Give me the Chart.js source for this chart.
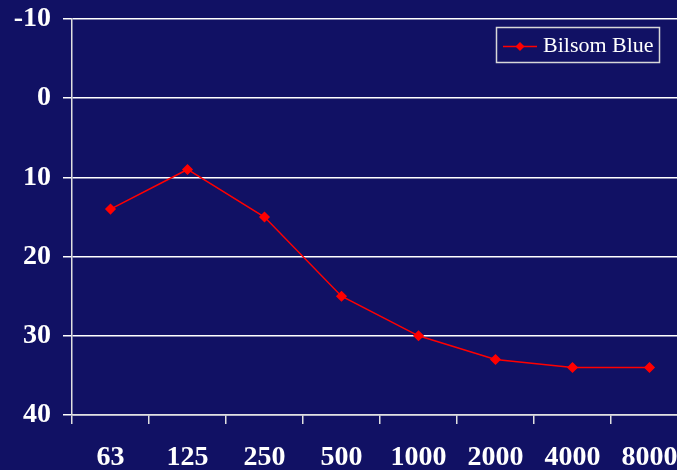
<!DOCTYPE html>
<html>
<head>
<meta charset="utf-8">
<script src="https://cdn.jsdelivr.net/npm/chart.js@4/dist/chart.umd.min.js"></script>
<style>
  html, body { margin: 0; padding: 0; overflow: hidden; background: #111164; }
  #chart_area { display: block; }
</style>
</head>
<body>
<canvas id="chart_area" width="700" height="470"></canvas>
<script>
// frequencies (Hz) and attenuation values
const frequencies = ['63', '125', '250', '500', '1000', '2000', '4000', '8000'];
const bilsomBlue = [14, 9, 15, 25, 30, 33, 34, 34];
const seriesName = 'Bilsom Blue';
const yTicks = [-10, 0, 10, 20, 30, 40];

const bg = '#111164';
const tickFont = { family: '"Liberation Serif", "Times New Roman", serif', size: 28, weight: 'bold' };

// draws the boxed legend in the top right corner
const boxLegend = {
  id: 'boxLegend',
  afterDraw(chart) {
    const c = chart.ctx;
    const ds = chart.data.datasets[0];
    c.save();
    c.strokeStyle = '#d8d8d8';
    c.lineWidth = 1.5;
    c.strokeRect(496.5, 27.5, 163, 35);
    c.strokeStyle = ds.borderColor;
    c.lineWidth = 1.5;
    c.beginPath();
    c.moveTo(503, 46.5);
    c.lineTo(537, 46.5);
    c.stroke();
    c.fillStyle = ds.borderColor;
    c.beginPath();
    c.moveTo(520, 42);
    c.lineTo(524.5, 46.5);
    c.lineTo(520, 51);
    c.lineTo(515.5, 46.5);
    c.closePath();
    c.fill();
    c.fillStyle = '#ffffff';
    c.font = '22px "Liberation Serif", "Times New Roman", serif';
    c.textBaseline = 'middle';
    c.fillText(ds.label, 543, 46);
    c.restore();
  }
};

const ctx = document.getElementById('chart_area').getContext('2d');
const myChart = new Chart(ctx, {
  type: 'line',
  data: {
    labels: frequencies,
    datasets: [{
      label: seriesName,
      data: bilsomBlue,
      borderColor: '#ff0000',
      backgroundColor: '#ff0000',
      borderWidth: 1.5,
      pointStyle: 'rectRot',
      pointRadius: 4.5,
      pointHoverRadius: 4.5,
      tension: 0
    }]
  },
  options: {
    responsive: false,
    animation: false,
    layout: { padding: { top: 19, right: 12, left: 0, bottom: 0 } },
    plugins: {
      legend: { display: false },
      tooltip: { enabled: false }
    },
    scales: {
      x: {
        offset: true,
        grid: {
          offset: true,
          drawOnChartArea: false,
          drawTicks: true,
          tickLength: 9,
          color: '#e0e0e0',
          lineWidth: 1.5
        },
        border: { display: true, color: '#e0e0e0', width: 1.5 },
        ticks: {
          color: '#ffffff',
          font: tickFont,
          padding: 17,
          maxRotation: 0,
          autoSkip: false
        },
        afterFit(scale) { scale.height = 55; }
      },
      y: {
        reverse: true,
        min: -10,
        max: 40,
        afterBuildTicks(scale) { scale.ticks = yTicks.map(v => ({ value: v })); },
        grid: {
          color: '#ffffff',
          lineWidth: 1.5,
          tickLength: 9
        },
        border: { display: true, color: '#e0e0e0', width: 1.5 },
        ticks: {
          color: '#ffffff',
          font: tickFont,
          padding: 12
        },
        afterFit(scale) {
          scale.width = 72;
          scale.paddingTop = 0;
          scale.paddingBottom = 0;
        }
      }
    }
  },
  plugins: [{
    id: 'bgFill',
    beforeDraw(chart) {
      const c = chart.ctx;
      c.save();
      c.fillStyle = bg;
      c.fillRect(0, 0, chart.width, chart.height);
      c.restore();
    }
  }, boxLegend]
});
</script>
</body>
</html>
